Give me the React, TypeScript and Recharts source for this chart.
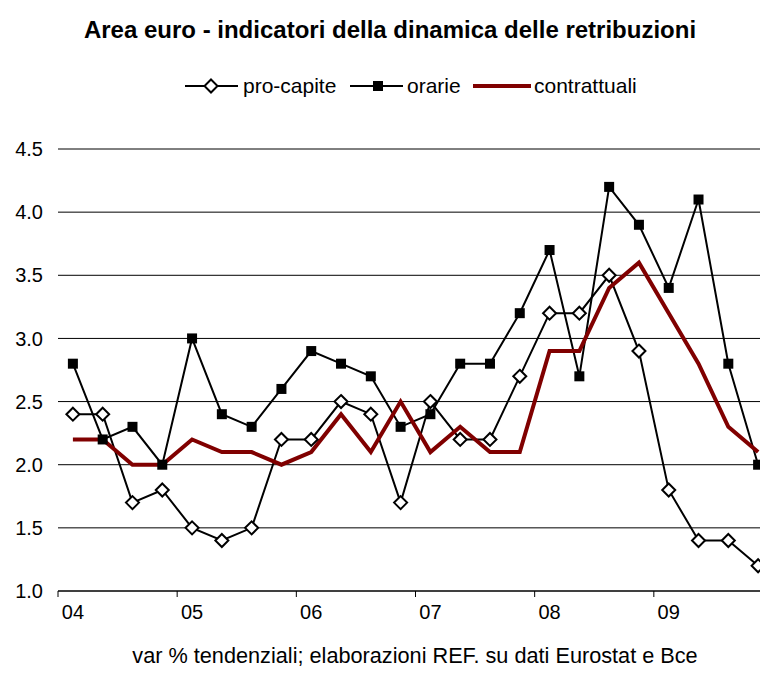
import React from "react"
import { LineChart, Line, XAxis, YAxis, CartesianGrid } from "recharts"

const quarters = [
  "04 I", "04 II", "04 III", "04 IV",
  "05 I", "05 II", "05 III", "05 IV",
  "06 I", "06 II", "06 III", "06 IV",
  "07 I", "07 II", "07 III", "07 IV",
  "08 I", "08 II", "08 III", "08 IV",
  "09 I", "09 II", "09 III", "09 IV",
]
const proCapite = [2.4, 2.4, 1.7, 1.8, 1.5, 1.4, 1.5, 2.2, 2.2, 2.5, 2.4, 1.7, 2.5, 2.2, 2.2, 2.7, 3.2, 3.2, 3.5, 2.9, 1.8, 1.4, 1.4, 1.2]
const orarie = [2.8, 2.2, 2.3, 2.0, 3.0, 2.4, 2.3, 2.6, 2.9, 2.8, 2.7, 2.3, 2.4, 2.8, 2.8, 3.2, 3.7, 2.7, 4.2, 3.9, 3.4, 4.1, 2.8, 2.0]
const contrattuali = [2.2, 2.2, 2.0, 2.0, 2.2, 2.1, 2.1, 2.0, 2.1, 2.4, 2.1, 2.5, 2.1, 2.3, 2.1, 2.1, 2.9, 2.9, 3.4, 3.6, 3.2, 2.8, 2.3, 2.1]
const yTicks = [1.0, 1.5, 2.0, 2.5, 3.0, 3.5, 4.0, 4.5]

const data = quarters.map((q, i) => ({
  q,
  proCapite: proCapite[i],
  orarie: orarie[i],
  contrattuali: contrattuali[i],
}))

const FONT = "'Liberation Sans', Arial, sans-serif"
const RED = "#800000"

const Diamond = (props: any) => {
  const { cx, cy } = props
  if (cx == null || cy == null) return null
  const r = 6.5
  return (
    <polygon
      points={`${cx},${cy - r} ${cx + r},${cy} ${cx},${cy + r} ${cx - r},${cy}`}
      fill="#fff"
      stroke="#000"
      strokeWidth={2}
    />
  )
}

const Square = (props: any) => {
  const { cx, cy } = props
  if (cx == null || cy == null) return null
  return <rect x={cx - 5} y={cy - 5} width={10} height={10} fill="#000" />
}

const XTick = (props: any) => {
  const { x, y, payload } = props
  const half = payload.offset || 14.9
  return (
    <g>
      <line x1={x - half} x2={x - half} y1={y} y2={y + 6} stroke="#000" strokeWidth={1} />
      <text x={x} y={y + 28} textAnchor="middle" fontSize={20} fontFamily={FONT} fill="#000">
        {String(payload.value).slice(0, 2)}
      </text>
    </g>
  )
}

export default function App() {
  return (
    <div style={{ position: "relative", width: 768, height: 675, margin: -8, overflow: "hidden", background: "#fff", fontFamily: FONT }}>
      <div style={{ position: "absolute", top: 16, left: 0, width: 780, textAlign: "center", fontSize: 24, fontWeight: "bold", lineHeight: "28px" }}>
        Area euro - indicatori della dinamica delle retribuzioni
      </div>

      {/* legend */}
      <svg style={{ position: "absolute", top: 72, left: 0 }} width={768} height={30}>
        <line x1={185} x2={238} y1={14} y2={14} stroke="#000" strokeWidth={2} />
        <Diamond cx={211} cy={14} />
        <text x={243} y={21} fontSize={21} fontFamily={FONT}>pro-capite</text>
        <line x1={350} x2={403} y1={14} y2={14} stroke="#000" strokeWidth={2} />
        <Square cx={378} cy={14} />
        <text x={407} y={21} fontSize={21} fontFamily={FONT}>orarie</text>
        <line x1={473} x2={531} y1={14} y2={14} stroke={RED} strokeWidth={4} />
        <text x={534} y={21} fontSize={21} fontFamily={FONT}>contrattuali</text>
      </svg>

      <div style={{ position: "absolute", top: 0, left: 0 }}>
        <LineChart width={773} height={675} data={data} margin={{ top: 149, right: 0, bottom: 0, left: 0 }}>
          <CartesianGrid horizontal vertical={false} stroke="#000" strokeWidth={1} />
          <XAxis
            dataKey="q"
            scale="band"
            height={84}
            interval={3}
            tickSize={0}
            tickMargin={0}
            axisLine={{ stroke: "#000", strokeWidth: 1 }}
            tick={<XTick />}
          />
          <YAxis
            width={58}
            domain={[1, 4.5]}
            ticks={yTicks}
            axisLine={false}
            tickLine={false}
            tickSize={0}
            tickMargin={15}
            tickFormatter={(v: number) => v.toFixed(1)}
            tick={{ fill: "#000", fontSize: 20, fontFamily: FONT }}
          />
          <Line dataKey="proCapite" stroke="#000" strokeWidth={2} dot={<Diamond />} activeDot={false} isAnimationActive={false} />
          <Line dataKey="orarie" stroke="#000" strokeWidth={2} dot={<Square />} activeDot={false} isAnimationActive={false} />
          <Line dataKey="contrattuali" stroke={RED} strokeWidth={4} dot={false} activeDot={false} isAnimationActive={false} />
        </LineChart>
      </div>

      <div style={{ position: "absolute", top: 645, left: 0, width: 830, textAlign: "center", fontSize: 21.7, lineHeight: "22px" }}>
        var % tendenziali; elaborazioni REF. su dati Eurostat e Bce
      </div>
    </div>
  )
}
